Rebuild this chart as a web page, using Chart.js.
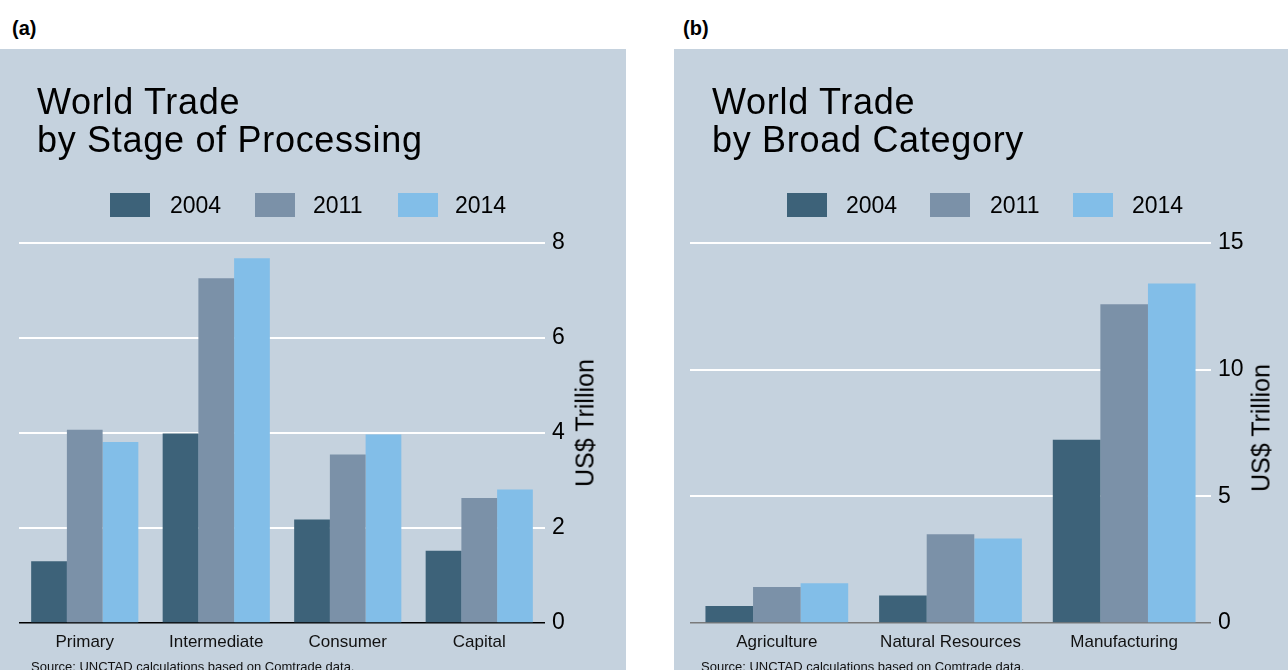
<!DOCTYPE html>
<html>
<head>
<meta charset="utf-8">
<script src="https://cdn.jsdelivr.net/npm/chart.js@4.4.1/dist/chart.umd.min.js"></script>
<style>
  html, body { margin:0; padding:0; background:#fff; }
  body { width:1288px; height:670px; position:relative; overflow:hidden; font-family:"Liberation Sans", Arial, sans-serif; color:#000; }
  .tag { position:absolute; top:18px; font-size:20px; line-height:20px; font-weight:bold; }
  .panel { position:absolute; top:49px; height:621px; background:#c5d2de; }
  .panel canvas { position:absolute; left:0; top:0; }
  .title { position:absolute; top:34px; font-size:36px; line-height:38px; letter-spacing:0.7px; white-space:nowrap; }
  .leg { position:absolute; top:144px; height:24px; }
  .leg .box { position:absolute; top:0; width:40px; height:24px; }
  .leg .txt { position:absolute; top:0; font-size:23px; line-height:24px; white-space:nowrap; }
  .ytitle { position:absolute; font-size:25px; line-height:25px; white-space:nowrap; transform:translate(-50%,-50%) rotate(-90deg); }
  .src { position:absolute; top:611px; font-size:13px; line-height:14px; white-space:nowrap; color:#111; }
</style>
</head>
<body>
<div class="tag" style="left:12px">(a)</div>
<div class="tag" style="left:683px">(b)</div>

<div class="panel" id="pa" style="left:0; width:626px;">
  <canvas id="ca" width="626" height="621"></canvas>
  <div class="title" style="left:37px">World Trade<br>by Stage of Processing</div>
  <div class="leg" id="lega"></div>
  <div class="ytitle" style="left:585px; top:374px;">US$ Trillion</div>
  <div class="src" style="left:31px">Source: UNCTAD calculations based on Comtrade data.</div>
</div>

<div class="panel" id="pb" style="left:674px; width:614px;">
  <canvas id="cb" width="614" height="621"></canvas>
  <div class="title" style="left:38px">World Trade<br>by Broad Category</div>
  <div class="leg" id="legb"></div>
  <div class="ytitle" style="left:587px; top:379px;">US$ Trillion</div>
  <div class="src" style="left:27px">Source: UNCTAD calculations based on Comtrade data.</div>
</div>

<script>
// ---- data ----
const years = ['2004', '2011', '2014'];
const yearColors = ['#3d6279', '#7b91a8', '#82bee8'];

const catsA = ['Primary', 'Intermediate', 'Consumer', 'Capital'];
const a2004 = [1.30, 3.99, 2.18, 1.52];
const a2011 = [4.07, 7.26, 3.55, 2.63];
const a2014 = [3.81, 7.68, 3.97, 2.81];
const ticksA = [0, 2, 4, 6, 8];

const catsB = ['Agriculture', 'Natural Resources', 'Manufacturing'];
const b2004 = [0.67, 1.09, 7.23];
const b2011 = [1.42, 3.50, 12.58];
const b2014 = [1.57, 3.34, 13.40];
const ticksB = [0, 5, 10, 15];

Chart.defaults.font.family = '"Liberation Sans", Arial, sans-serif';
Chart.defaults.color = '#000';

function legend(id, xs) {
  const el = document.getElementById(id);
  years.forEach((y, i) => {
    const b = document.createElement('div');
    b.className = 'box'; b.style.left = xs[i][0] + 'px'; b.style.background = yearColors[i];
    const t = document.createElement('div');
    t.className = 'txt'; t.style.left = xs[i][1] + 'px'; t.textContent = y;
    el.appendChild(b); el.appendChild(t);
  });
}
legend('lega', [[110, 170], [255, 313], [398, 455]]);
legend('legb', [[113, 172], [256, 316], [399, 458]]);

function makeChart(id, cats, series, ticks, max, zeroColor, padLeft, axisW, catPct) {
  return new Chart(document.getElementById(id), {
    type: 'bar',
    data: {
      labels: cats,
      datasets: series.map((d, i) => ({
        label: years[i], data: d, backgroundColor: yearColors[i],
        borderWidth: 0, categoryPercentage: catPct, barPercentage: 1
      }))
    },
    options: {
      responsive: false, animation: false,
      layout: { padding: { left: padLeft, right: 0, top: 194, bottom: 0 } },
      plugins: { legend: { display: false }, tooltip: { enabled: false } },
      scales: {
        x: {
          grid: { display: false, drawTicks: false },
          border: { display: false },
          ticks: { font: { size: 17 }, color: '#111', padding: 9, maxRotation: 0 },
          afterFit: s => { s.height = 47; }
        },
        y: {
          position: 'right', min: 0, max: max,
          afterBuildTicks: s => { s.ticks = ticks.map(v => ({ value: v })); },
          grid: {
            drawTicks: false,
            color: c => c.tick && c.tick.value === 0 ? zeroColor : '#ffffff',
            lineWidth: c => c.tick && c.tick.value === 0 ? 1.5 : 2
          },
          border: { display: false },
          ticks: { font: { size: 23 }, color: '#000', padding: 7 },
          afterFit: s => { s.width = axisW; }
        }
      }
    }
  });
}

makeChart('ca', catsA, [a2004, a2011, a2014], ticksA, 8, '#000000', 19, 81, 0.815);
makeChart('cb', catsB, [b2004, b2011, b2014], ticksB, 15, '#7a7a7a', 16, 77, 0.822);
</script>
</body>
</html>
